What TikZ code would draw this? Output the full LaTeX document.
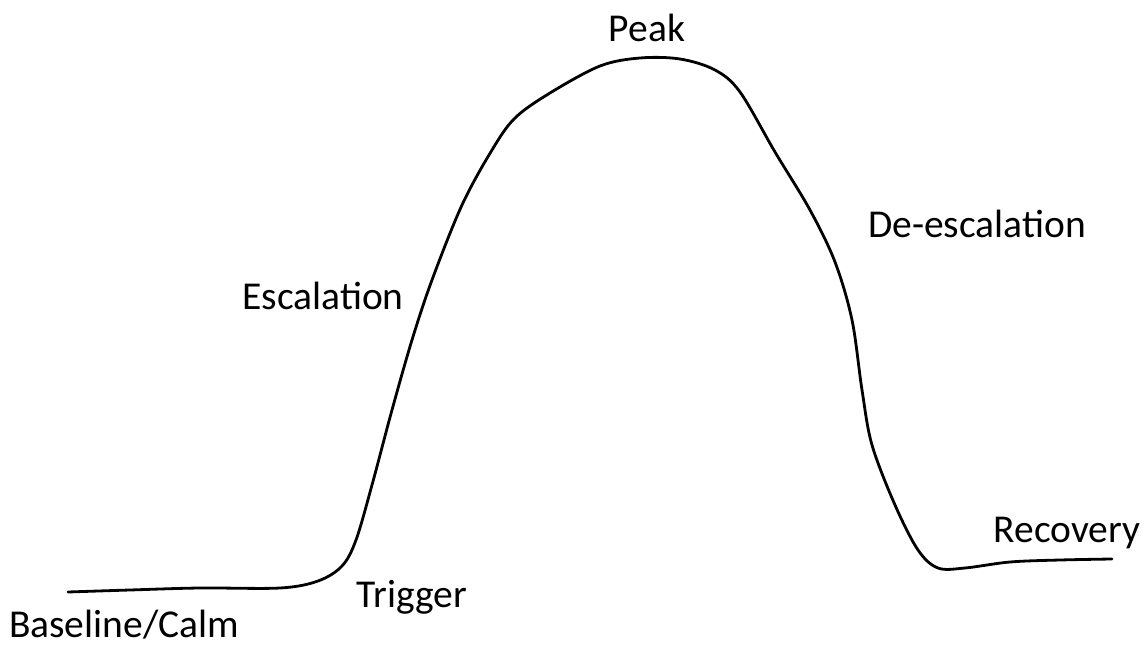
\documentclass[tikz,border=0pt]{standalone}
\usepackage{fontspec}
\setmainfont{Carlito}
\begin{document}
\begin{tikzpicture}[x=1pt,y=-1pt,
  lbl/.style={font=\fontsize{39.5}{42}\selectfont, inner sep=0pt, text=black},
  curve/.style={line width=2.8pt, line cap=round, line join=round}]
\useasboundingbox (0,0) rectangle (1144,647);
\draw[curve] plot[smooth, tension=0.55] coordinates {
 (68,592) (130,590) (200,588) (280,588) (318,581) (342,566) (356,540)
 (372,485) (392,410) (412,340) (432,280) (462,205) (492,150) (515,118)
 (550,93) (600,66) (640,58) (680,59) (715,70) (740,92) (775,152)
 (810,210) (835,262) (852,320) (862,390) (872,445) (895,505) (918,550)
 (938,568) (965,568) (1010,562) (1060,560) (1112,559)};
\node[lbl] (peak) at (647,28) {Peak};
\node[lbl] (desc) at (977,224) {De-escalation};
\node[lbl] (esc) at (323,296) {Escalation};
\node[lbl] (trig) at (412,597) {Trigger};
\node[lbl, anchor=base] (base) at (124,637) {Baseline/Calm};
\node[lbl] (rec) at (1067,533) {Recovery};
\end{tikzpicture}
\end{document}
